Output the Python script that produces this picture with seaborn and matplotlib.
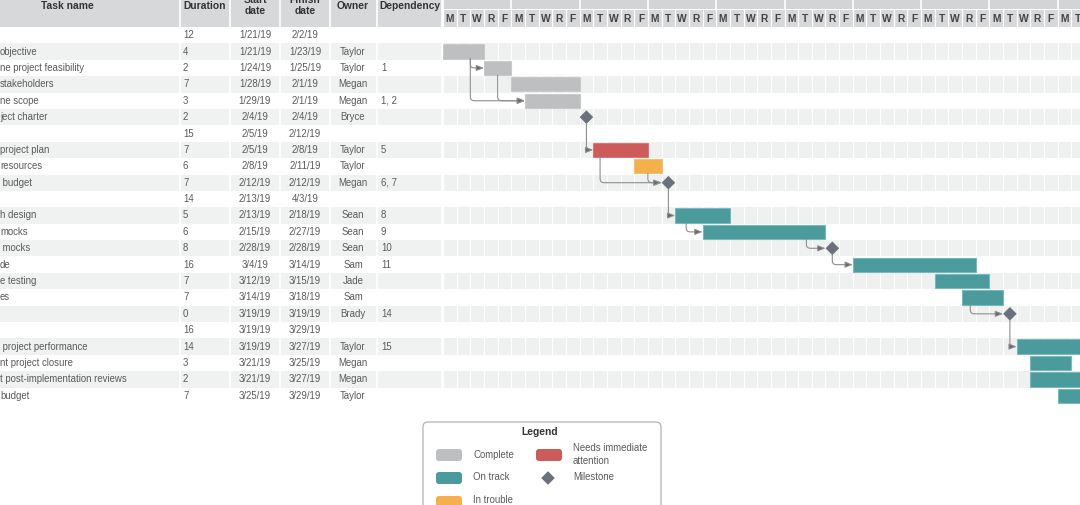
import numpy as np
import pandas as pd
import matplotlib
matplotlib.use("Agg")
import matplotlib.pyplot as plt
import seaborn as sns
from matplotlib.patches import FancyBboxPatch, Rectangle

# --- table data ---
task_names = ["", "objective", "ne project feasibility", "stakeholders", "ne scope",
              "ject charter", "", "project plan", "resources", " budget", "",
              "h design", "mocks", " mocks", "de", "e testing", "es", "", "",
              " project performance", "nt project closure",
              "t post-implementation reviews", "budget"]
durations = [12, 4, 2, 7, 3, 2, 15, 7, 6, 7, 14, 5, 6, 8, 16, 7, 7, 0, 16, 14, 3, 2, 7]
start_dates = ["1/21/19", "1/21/19", "1/24/19", "1/28/19", "1/29/19", "2/4/19", "2/5/19",
               "2/5/19", "2/8/19", "2/12/19", "2/13/19", "2/13/19", "2/15/19", "2/28/19",
               "3/4/19", "3/12/19", "3/14/19", "3/19/19", "3/19/19", "3/19/19", "3/21/19",
               "3/21/19", "3/25/19"]
finish_dates = ["2/2/19", "1/23/19", "1/25/19", "2/1/19", "2/1/19", "2/4/19", "2/12/19",
                "2/8/19", "2/11/19", "2/12/19", "4/3/19", "2/18/19", "2/27/19", "2/28/19",
                "3/14/19", "3/15/19", "3/18/19", "3/19/19", "3/29/19", "3/27/19", "3/25/19",
                "3/27/19", "3/29/19"]
owners = ["", "Taylor", "Taylor", "Megan", "Megan", "Bryce", "", "Taylor", "Taylor", "Megan",
          "", "Sean", "Sean", "Sean", "Sam", "Jade", "Sam", "Brady", "", "Taylor", "Megan",
          "Megan", "Taylor"]
dependencies = ["", "", "1", "", "1, 2", "", "", "5", "", "6, 7", "", "8", "9", "10", "11",
                "", "", "14", "", "15", "", "", ""]

day_letters = ["M", "T", "W", "R", "F"]

# --- gantt data (working days from Mon 1/21/19) ---
bar_rows = [1, 2, 3, 4, 7, 8, 11, 12, 14, 15, 16, 19, 20, 21, 22]
bar_start = [0, 3, 5, 6, 11, 14, 17, 19, 30, 36, 38, 42, 43, 43, 45]
bar_len = [3, 2, 5, 4, 4, 2, 4, 9, 9, 4, 3, 7, 3, 6, 5]
bar_status = ["Complete"] * 4 + ["Needs immediate attention", "In trouble"] + ["On track"] * 9

milestone_rows = [5, 9, 13, 17]
milestone_day = [10.5, 16.5, 28.5, 41.5]

# dependency links
link_src_x = [2, 2, 4, 10.5, 11.5, 15, 16.5, 17.8, 26.6, 28.5, 38.6, 41.5]
link_src_row = [1, 1, 2, 5, 7, 8, 9, 11, 12, 13, 16, 17]
link_tgt_x = [3, 6, 6, 11, 16, 16, 17, 19, 28, 30, 41, 42]
link_tgt_row = [2, 4, 4, 7, 9, 9, 11, 12, 13, 14, 17, 19]

palette = {"Complete": "#bebfc1", "On track": "#4b9b9c", "In trouble": "#f5b04b",
           "Needs immediate attention": "#cc5b59"}
milestone_color = "#6b717a"

sns.set_theme(style="white")
plt.rcParams["font.family"] = ["Liberation Sans", "DejaVu Sans"]

W, H = 1080, 505
ROW_PX = 16.39
TOP = 27
DAY_PX = 13.66
n_rows = len(durations)

def prow(px):
    return -0.5 + (px - TOP) / ROW_PX

fig = plt.figure(figsize=(10.8, 5.05), dpi=100)
fig.patch.set_facecolor("white")

y_top, y_bot = prow(0), prow(H)
gray_rows = [i for i in range(n_rows) if i % 2 == 1]
row_gray = "#f0f1f1"
head_gray = "#d7d8da"
txt = "#5a5a5a"

# ---------- table ----------
tab = fig.add_axes([0, 0, 443 / W, 1])
tab.set_xlim(0, 443)
tab.set_ylim(y_bot, y_top)
tab.axis("off")
tab.add_patch(Rectangle((0, y_top), 442, prow(TOP) - y_top, color=head_gray, lw=0))
for r in gray_rows:
    tab.add_patch(Rectangle((0, r - 0.5), 442, 1, color=row_gray, lw=0))
for xs in [180, 230, 280, 330, 377, 442]:
    tab.vlines(xs, y_top, n_rows - 0.5, color="white", lw=1.2)

hy = prow(6)
hkw = dict(fontsize=7.4, fontweight="bold", color="#333333", ha="center", va="center",
           linespacing=1.1)
tab.text(67, hy, "Task name", **hkw)
tab.text(205, hy, "Duration", **hkw)
tab.text(255, prow(5.5), "Start\ndate", **hkw)
tab.text(305, prow(5.5), "Finish\ndate", **hkw)
tab.text(353, hy, "Owner", **hkw)
tab.text(410, hy, "Dependency", **hkw)

ckw = dict(fontsize=6.9, color=txt, va="center")
for i in range(n_rows):
    tab.text(0, i, task_names[i], ha="left", **ckw)
    tab.text(183, i, str(durations[i]), ha="left", **ckw)
    tab.text(255, i, start_dates[i], ha="center", **ckw)
    tab.text(305, i, finish_dates[i], ha="center", **ckw)
    tab.text(353, i, owners[i], ha="center", **ckw)
    tab.text(381, i, dependencies[i], ha="left", **ckw)

# ---------- gantt ----------
gt = fig.add_axes([443 / W, 0, (W - 443) / W, 1])
n_days = (W - 443) / DAY_PX

for r in gray_rows:
    gt.axhspan(r - 0.5, r + 0.5, color="#eff0f0", lw=0, zorder=0)
gt.axhspan(prow(10), prow(TOP), color=head_gray, lw=0, zorder=0)
gt.axhspan(y_top, prow(9.3), color="#d3d4d6", lw=0, zorder=0)
days = np.arange(0, int(np.ceil(n_days)) + 1)
gt.vlines(days, prow(9.3), n_rows - 0.5, color="white", lw=0.9, zorder=1)
gt.vlines(days[::5], y_top, prow(9.3), color="white", lw=1.2, zorder=1)
for d in days:
    if d + 0.5 < n_days + 0.3:
        gt.text(d + 0.5, prow(19), day_letters[d % 5], ha="center", va="center",
                fontsize=7.4, fontweight="bold", color="#444444", zorder=2)

bars = pd.DataFrame({"row": bar_rows, "start": bar_start, "len": bar_len, "status": bar_status})
edge = {"Complete": "#c9cacc", "On track": "#79b9ba", "In trouble": "#f7c06e",
        "Needs immediate attention": "#d87775"}
gt.barh(bars["row"], bars["len"], left=bars["start"], height=0.87,
        color=[palette[s] for s in bars["status"]],
        edgecolor=[edge[s] for s in bars["status"]], lw=0.8, zorder=3)

# dependency connectors
for sx, sr, tx, tr in zip(link_src_x, link_src_row, link_tgt_x, link_tgt_row):
    off = 0.41 if sr in milestone_rows else 0.44
    gt.annotate("", xy=(tx, tr), xytext=(sx, sr + off),
                arrowprops=dict(arrowstyle="-|>,head_length=0.45,head_width=0.18",
                                connectionstyle="angle,angleA=90,angleB=0,rad=4",
                                lw=0.8, shrinkA=0, shrinkB=0,
                                mutation_scale=10, fc="#666666", ec="#8e8e8e"),
                zorder=4)

ms = pd.DataFrame({"day": milestone_day, "row": milestone_rows})
sns.scatterplot(data=ms, x="day", y="row", marker="D", s=48, color=milestone_color,
                edgecolor="none", ax=gt, zorder=5, legend=False)
gt.set_xlim(0, n_days)
gt.set_ylim(y_bot, y_top)
gt.axis("off")

# ---------- legend ----------
lg = fig.add_axes([0, 0, 1, 1], zorder=10)
lg.set_xlim(0, W)
lg.set_ylim(H, 0)
lg.axis("off")
lg.patch.set_alpha(0)
lg.add_patch(FancyBboxPatch((423, 422), 238, 110, boxstyle="round,pad=0,rounding_size=5",
                            fc="white", ec="#b3b3b3", lw=0.9))
lg.text(540, 432, "Legend", ha="center", va="center", fontsize=7.4, fontweight="bold",
        color="#333333")
legend_items = [("Complete", 436, 455), ("Needs immediate attention", 536, 455),
                ("On track", 436, 478), ("In trouble", 436, 502)]
legend_labels = {"Complete": "Complete", "Needs immediate attention": "Needs immediate\nattention",
                 "On track": "On track", "In trouble": "In trouble"}
for key, x0, yc in legend_items:
    lg.add_patch(FancyBboxPatch((x0, yc - 6), 26, 12, boxstyle="round,pad=0,rounding_size=3",
                                fc=palette[key], ec="none"))
    ty = yc - 0.5 if key != "In trouble" else yc - 2
    lg.text(x0 + 37, ty, legend_labels[key], ha="left", va="center", fontsize=6.9,
            color=txt, linespacing=1.3)
lg.scatter([548], [478], marker="D", s=48, color=milestone_color, edgecolor="none")
lg.text(573, 477.5, "Milestone", ha="left", va="center", fontsize=6.9, color=txt)

fig.savefig("out.png", dpi=100, facecolor="white")
